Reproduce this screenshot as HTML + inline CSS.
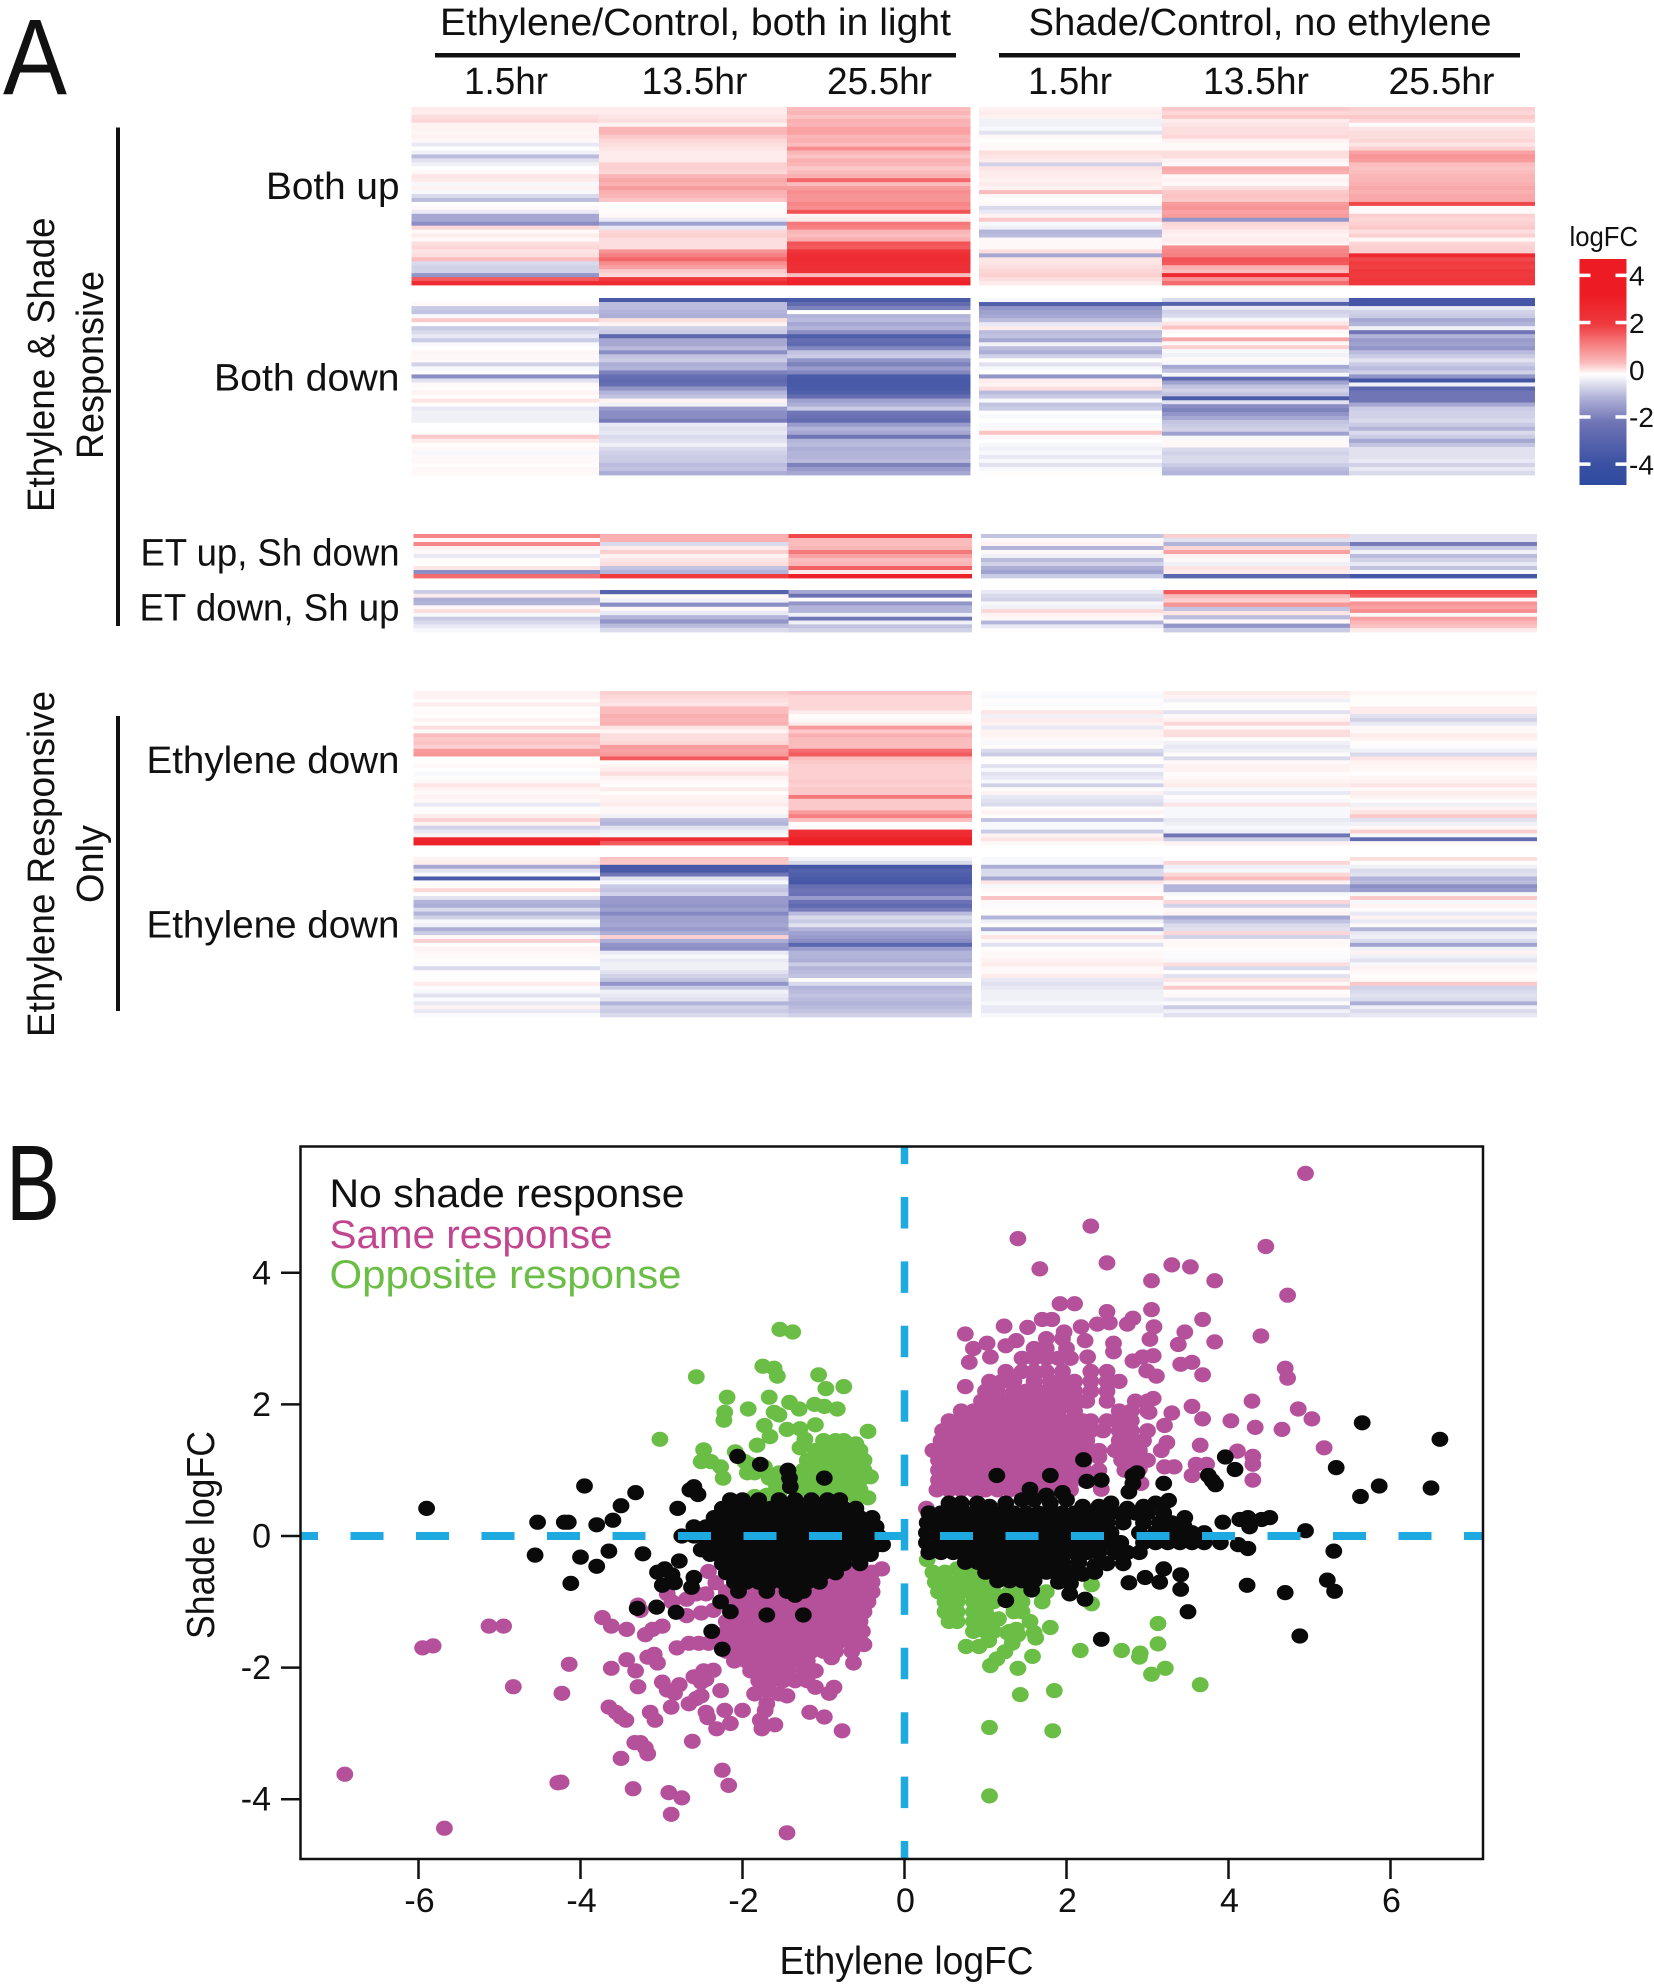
<!DOCTYPE html>
<html lang="en">
<head>
<meta charset="utf-8">
<title>Ethylene and shade responsive genes</title>
<style>
html,body{margin:0;padding:0;background:#fff;}
svg{display:block;}
text{font-family:"Liberation Sans",sans-serif;fill:#111;}
</style>
</head>
<body>
<svg id="fig" xmlns="http://www.w3.org/2000/svg" width="1654" height="1984" viewBox="0 0 1654 1984">
<defs>
<linearGradient id="lfc" x1="0" y1="0" x2="0" y2="1">
<stop offset="0" stop-color="#ed1c24"/><stop offset="0.16" stop-color="#ed1c24"/><stop offset="0.29" stop-color="#ef3a3e"/><stop offset="0.37" stop-color="#f5797b"/><stop offset="0.46" stop-color="#fbbcbd"/><stop offset="0.51" stop-color="#ffffff"/><stop offset="0.61" stop-color="#b3b4d9"/><stop offset="0.72" stop-color="#7075b6"/><stop offset="0.91" stop-color="#3a50a2"/><stop offset="1" stop-color="#2e4b9f"/>
</linearGradient>
</defs>
<rect width="1654" height="1984" fill="#fff"/>

<text x="3" y="94" font-size="108" textLength="64" lengthAdjust="spacingAndGlyphs">A</text>
<text x="6" y="1220" font-size="108" textLength="54" lengthAdjust="spacingAndGlyphs">B</text>

<text x="440" y="35" font-size="38" textLength="511" lengthAdjust="spacingAndGlyphs">Ethylene/Control, both in light</text>
<text x="1028.5" y="35" font-size="38" textLength="463" lengthAdjust="spacingAndGlyphs">Shade/Control, no ethylene</text>
<rect x="435" y="53" width="521" height="4.5" fill="#111"/>
<rect x="999" y="53" width="521" height="4.5" fill="#111"/>

<text x="464" y="94" font-size="38" textLength="84" lengthAdjust="spacingAndGlyphs">1.5hr</text>
<text x="641.5" y="94" font-size="38" textLength="106" lengthAdjust="spacingAndGlyphs">13.5hr</text>
<text x="827" y="94" font-size="38" textLength="105" lengthAdjust="spacingAndGlyphs">25.5hr</text>
<text x="1028" y="94" font-size="38" textLength="84" lengthAdjust="spacingAndGlyphs">1.5hr</text>
<text x="1203" y="94" font-size="38" textLength="106" lengthAdjust="spacingAndGlyphs">13.5hr</text>
<text x="1388.5" y="94" font-size="38" textLength="106" lengthAdjust="spacingAndGlyphs">25.5hr</text>

<text x="266" y="199" font-size="38" textLength="133.5" lengthAdjust="spacingAndGlyphs">Both up</text>
<text x="214" y="390.5" font-size="38" textLength="185.5" lengthAdjust="spacingAndGlyphs">Both down</text>
<text x="140.5" y="565.5" font-size="38" textLength="259" lengthAdjust="spacingAndGlyphs">ET up, Sh down</text>
<text x="139.5" y="620.5" font-size="38" textLength="260" lengthAdjust="spacingAndGlyphs">ET down, Sh up</text>
<text x="146.5" y="773" font-size="38" textLength="253" lengthAdjust="spacingAndGlyphs">Ethylene down</text>
<text x="146.5" y="937.5" font-size="38" textLength="253" lengthAdjust="spacingAndGlyphs">Ethylene down</text>

<text transform="translate(54 512) rotate(-90)" font-size="38" textLength="294.5" lengthAdjust="spacingAndGlyphs">Ethylene &amp; Shade</text>
<text transform="translate(103 459) rotate(-90)" font-size="38" textLength="188" lengthAdjust="spacingAndGlyphs">Responsive</text>
<text transform="translate(54 1037) rotate(-90)" font-size="38" textLength="346" lengthAdjust="spacingAndGlyphs">Ethylene Responsive</text>
<text transform="translate(103 903) rotate(-90)" font-size="38" textLength="78" lengthAdjust="spacingAndGlyphs">Only</text>
<rect x="116" y="127.5" width="4" height="498.5" fill="#111"/>
<rect x="116" y="716" width="4" height="295" fill="#111"/>

<g id="heatmap"></g>

<text x="1569.5" y="246" font-size="28" textLength="68.5" lengthAdjust="spacingAndGlyphs">logFC</text>
<rect x="1579.5" y="259" width="47" height="226" fill="url(#lfc)"/>
<g id="colorbar-ticks"></g>

<rect x="300.5" y="1146.5" width="1182.5" height="712.5" fill="#fff"/>
<g id="points"></g>
<line x1="300.5" x2="1483" y1="1536" y2="1536" stroke="#1eaae1" stroke-width="8" stroke-dasharray="33 32.5" stroke-dashoffset="15.5"/>
<line x1="904.5" x2="904.5" y1="1146.5" y2="1859" stroke="#1eaae1" stroke-width="7.5" stroke-dasharray="31.5 32.9" stroke-dashoffset="13.9"/>
<rect x="300.5" y="1146.5" width="1182.5" height="712.5" fill="none" stroke="#111" stroke-width="2.5"/>
<g id="axes"></g>

<text x="329.5" y="1207" font-size="40" textLength="355" lengthAdjust="spacingAndGlyphs">No shade response</text>
<text x="329.5" y="1248" font-size="40" textLength="283" lengthAdjust="spacingAndGlyphs" style="fill:#c2458f">Same response</text>
<text x="329.5" y="1288" font-size="40" textLength="352" lengthAdjust="spacingAndGlyphs" style="fill:#6abd45">Opposite response</text>
<text x="779.5" y="1974" font-size="39" textLength="254" lengthAdjust="spacingAndGlyphs">Ethylene logFC</text>
<text transform="translate(214 1639) rotate(-90)" font-size="39" textLength="208" lengthAdjust="spacingAndGlyphs">Shade logFC</text>
</svg>

<script>
// ---------- Heatmap values (logFC), top to bottom ----------
const bothUpEt1=[.3,.3,.5,.6,.2,.2,.15,.2,.1,-.3,0,-.2,-.9,-.4,-.2,0,.1,.4,.3,-.1,.2,-.1,-.5,-.9,0,.1,-.3,-1.2,-1.2,-1.6,.6,.1,.3,.1,.5,.6,.4,.5,1,-.5,-.6,-.6,-1.5,2.5,3.5];
const bothUpEt13=[.3,.3,.4,.5,.2,1.1,1.1,.8,.6,.5,.4,.3,.3,.3,.7,.7,.6,1.1,1.3,1.2,1.5,1.2,1.1,.9,.05,.05,.05,.1,-.3,-1.3,-.3,.6,.7,.5,.5,.5,1.6,1.9,2.3,1.7,1.4,.8,.6,3,3.5];
const bothUpEt25=[1,1.1,.9,1.2,1.1,1.4,1.4,1.1,1.2,1,1.7,1.1,.9,1.2,1.1,.8,1,1.2,2.3,1,1.5,1.7,1.6,1.6,1.8,1.7,2.6,.2,.3,2,1.9,1.1,1,1.2,2.6,2.5,3.2,3.4,3.5,3.4,3.3,3.3,1,3.7,3.8];
const bothUpSh1=[.2,.3,.2,-.2,-.2,-.1,-.4,.1,0,.1,.1,.5,.4,.3,-.6,.4,.3,.3,.2,.3,.2,1,.1,.05,.1,-.5,-.3,.2,.8,-.1,-.2,-1,-.9,.1,.1,.1,.5,-1.2,.4,.4,.5,.6,.7,.5,.3];
const bothUpSh13=[.8,.6,.8,.3,.4,.5,.5,.6,.2,.1,.1,.5,.5,.2,.1,1.3,1.2,.1,.2,.1,.5,.8,.9,.8,1.5,1.6,1.4,1.5,-1.5,.6,.5,.3,.2,.3,.2,1.7,1.8,1.9,2.6,2.5,1.2,1,3.5,1.6,2.2];
const bothUpSh25=[.7,.6,.8,.6,.05,.4,.5,.5,.6,.4,.7,1.4,1.6,1.5,1,.9,1,1.1,1.1,1.2,1.3,1.2,1.3,1.3,2.8,.1,.1,.7,.6,.7,.8,.5,.7,.1,.6,.7,.7,3.6,2.8,3,2.9,3.1,3,3.1,3.1];

const bothDownEt1=[0,.1,-.7,-.8,-.1,.8,0,-.7,-.5,-.3,-.7,-.1,0,.15,.1,.1,-.6,-.1,.05,-1.6,-.4,.1,.05,.2,.05,.4,.05,-.3,-.2,-.2,-.2,0,0,.05,.8,.3,.05,.1,-.1,.1,.1,.05,.1,.1];
const bothDownEt13=[-3.5,-.9,-.9,-1,-1.1,.5,.2,-.6,-.7,-2.7,-1.2,-1.2,-.9,-1.6,-.8,-.7,-1.1,-1,-1.8,-2.4,-2.6,-2.4,-1.5,-1,-.8,.2,-.2,-1.4,-1.6,-1.6,-1.9,-.3,-.4,-.3,-.5,-.4,-.2,-.5,-.6,-.7,-.7,-.9,-.8,-1.1];
const bothDownEt25=[-3.4,-2.5,-1.8,0,-1,-.9,-1.2,-1,-1.6,-3.2,-2.4,-2.6,-1.7,-.8,-.7,-1.5,-1.8,-1.4,-1.7,-3.4,-3.5,-3.5,-3.4,-3.2,-2.5,-1.3,-1.1,-.7,-2,-2.2,-2.5,-1.4,-1,-1.2,-2,-1,-.9,-1.1,-1,-1,-.9,-1.8,-1.4,-1.2];
const bothDownSh1=[-.1,-3.2,-1.5,-1.3,-1.2,-.9,-.3,.3,-.9,-.8,-1.2,-.2,-.9,-1.1,-.6,.05,-.4,-.1,0,-1.5,.3,.2,.5,-.9,-.7,-.1,-.8,-.7,0,-.1,0,-.1,.1,.9,.1,0,-.1,-.2,-.1,-.3,-.1,-.4,-.1,.05];
const bothDownSh13=[-.5,-3,-.3,-.6,-.5,-.1,.4,.9,.1,0,1.3,.1,.7,-.1,-.2,.1,-.1,-1.2,-.8,-.1,-2.6,-1.3,-.8,-.6,-.8,-3.4,-.4,-1.6,-1.8,-1.5,-1.2,-.8,-.7,-.6,-1.3,-.1,.1,.1,-.5,-.6,-.5,-.5,-.7,-.9,-1];
const bothDownSh25=[-3.6,-3.6,-.3,-.6,-.7,-1.2,-1,-.2,-2,-1,-1.4,-1.3,-1.5,-.9,-.7,-.4,-.7,-.9,-.6,-1.5,-3.7,-.2,-2.8,-2,-2,-2,-1.2,-.7,-.6,-.6,-.5,-.7,-1,-.5,-.7,-1.2,-.8,-.4,-.4,-.4,-.3,-.6,-.3,-.5];

const etUpEt1=[1.8,.1,1.8,.2,.1,-.3,.05,.05,.4,-1.6,2.2];
const etUpEt13=[1.2,1.2,-.5,.3,.7,.2,.4,.5,-.8,-1,3];
const etUpEt25=[2.8,1,1,1.1,2,1.4,1,1.1,2.4,.3,3.8];
const etUpSh1=[-.8,.1,.2,-1,.1,-.2,-.9,-.6,-1.1,-1.3,-.7];
const etUpSh13=[.7,-.4,-1,.6,1.4,.2,.1,-.2,.4,.3,-2.8];
const etUpSh25=[-.4,-.4,-1.9,-.7,-.2,-.9,-.6,-.3,-.8,-.1,-3.6];

const etDownEt1=[-.7,.3,-1.1,-1,.1,.5,-.1,-.7,-.5,-.3,-.1];
const etDownEt13=[-3,.1,-.2,-1.6,.1,-.3,-1,-1.5,-.9,-.5];
const etDownEt25=[-1.2,-2.2,.05,-1.5,-1,-1,-.2,-2,-.2,-.8,-.6];
const etDownSh1=[-.3,-.5,-.6,-.1,-.2,.6,.2,.1,-1,-.3,.05];
const etDownSh13=[2.5,1,.7,1.6,-.8,.4,-.9,.1,-1.5,-.7];
const etDownSh25=[2.8,2.5,.1,1.6,1.4,1.7,.1,1.4,1.1,.9,.3];

const ethAEt1=[.2,.2,.05,.3,.05,.1,.05,.2,.05,.5,.1,1,.8,.9,.7,1.5,1.6,.05,.05,.1,0,-.1,.05,.1,.4,.2,.1,.2,.1,-.3,.05,.05,.3,.7,.2,-.6,-.3,.2,3.7,3.8];
const ethAEt13=[.7,.6,.5,.4,1,1,1.2,1.1,1.2,.4,.2,.5,.5,.6,1.5,1.4,1.5,2.5,.05,.2,.3,.5,.2,.1,.05,.3,.05,.2,.2,.3,.1,.1,-.2,-.9,-1,-.4,-.2,-.1,3.4,2.5];
const ethAEt25=[.9,.6,.6,.6,.6,.3,.05,.1,.3,1.5,.8,1.2,1,1,1,2.2,2.5,1,.8,.7,.7,.7,.7,.8,.7,.8,.8,2,.8,.8,.8,1.5,1.9,1,.05,.1,3.4,3.5,3.8,3.9];
const ethASh1=[-.05,-.1,.05,-.05,.05,.4,-.2,.3,.2,-.3,.2,.2,.1,-.1,.05,-.5,-.7,.05,.05,-.4,-.1,-.4,-.3,-.1,-.6,.05,.2,-.3,-.4,-.5,.05,.2,.05,-.8,-.1,-.1,-.7,.2,.4,.1];
const ethASh13=[.3,.2,-.2,.05,.05,-.4,.1,.2,.6,.1,.5,.5,.05,-.2,-.3,-.2,.05,-.5,.1,.2,.2,.05,.1,.2,.3,-.1,-.3,.05,-.1,.4,-.1,-.1,-.1,-.3,-.2,-.1,-.2,-2,-.7,.2];
const ethASh25=[.15,.05,.05,.05,.3,.3,-.4,-.6,-.3,.1,.1,.3,.2,.05,-.05,-.2,-.5,.4,.2,.15,.1,0,.15,.2,.4,.1,.3,.2,.05,-.2,.2,.4,.8,-.4,-.2,.1,.7,-.1,-2.5,.1];

const ethBEt1=[.2,.3,-1.2,-.4,-.1,-3.5,.05,.05,.6,.05,-.4,-1,-1.1,-.5,-1,-.6,-.1,-.2,-1.1,-.7,.1,.7,.05,.2,.1,.1,.05,-.05,-.5,.05,.05,.05,.3,-.05,-.1,-.4,-.05,-.3,.2,-.3,-.05];
const ethBEt13=[.9,.8,-3.5,-3.5,-2,-.4,-.1,-.7,-.8,-.6,-1.4,-1.4,-1.5,-1.3,-1.7,-1.3,-1.3,-1.2,-1.4,-1.1,.7,-1.1,-1.5,-1.6,-.3,-.1,-.3,-.2,-.2,-.4,-.6,-.8,-1.5,-.7,-.2,-.3,-.4,-1,-.6,-.7,-.5];
const ethBEt25=[-.2,-.5,-3.6,-3,-3.2,-3.4,-3.6,-2.4,-2.1,-2.2,-1.4,-2.2,-2.6,-1.9,-.9,-.5,-.7,-.4,-1,-1.3,-1.4,-1.6,-2.8,-1.4,-1,-1,-1.1,-.7,-1,-.9,-.8,.05,-.5,-1,-.9,-.8,-.9,-1,-.9,-.8,-.6];
const ethBSh1=[-.1,-.1,-1.1,-.5,-.5,-1.2,.4,-.1,.1,.05,.9,.1,-.05,.05,.05,-1,-.2,.05,-1.2,-.1,.4,.1,-.4,.05,.1,.1,.2,.3,.1,.1,.3,-.3,-.4,-.3,-.2,-.2,-.2,-.1,-.3,-.3,-.1];
const ethBSh13=[.05,.6,-.2,-.1,.6,1,.2,-1,-1,-.1,.05,.6,-.6,.1,.2,-1.2,-.8,-.5,-.4,.6,-.6,.1,.1,.05,-.05,-.05,-.1,.5,-.5,0,-.4,.4,.1,.8,.05,.1,-.3,-.05,-.7,-.2,-.4];
const ethBSh25=[.5,.05,-.2,-.5,-.4,-1,-.9,-1.6,-1.4,-.1,.8,-.1,.2,.05,-.3,.2,-.3,.1,-1,-.3,-.2,-.5,-1.3,-.2,.2,-.2,-.4,-.1,.2,.1,.05,.1,.8,-.6,-.5,-.4,-.5,-1.1,-.2,-.5,-.3];

// ---------- Colour-bar tick values ----------
const colorbarTicks=[4,2,0,-2,-4];
const colorbarTickLabels=["4","2","0","-2","-4"];

// ---------- Scatter axis ticks ----------
const xTicks=[-6,-4,-2,0,2,4,6];
const yTicks=[-4,-2,0,2,4];
const xTickLabels=["-6","-4","-2","0","2","4","6"];
const yTickLabels=["-4","-2","0","2","4"];

// ---------- Scatter values [ethylene logFC, shade logFC] ----------
const samePointsLeft=[
[-6.91,-3.62],[-5.68,-4.44],[-1.45,-4.51],[-5.95,-1.7],[-5.82,-1.67],[-5.13,-1.37],[-4.95,-1.37],[-4.83,-2.29],[-4.14,-1.95],[-4.23,-2.39],[-4.28,-3.75],[-4.24,-3.74],
[-3.73,-1.24],[-3.62,-1.37],[-3.43,-1.42],[-3.62,-2.01],[-3.43,-1.88],[-3.32,-2.05],[-3.29,-2.29],[-3.65,-2.6],[-3.56,-2.68],[-3.5,-2.75],[-3.44,-2.8],[-3.5,-3.38],[-3.33,-3.14],[-3.26,-3.14],[-3.2,-3.22],[-3.17,-3.31],[-3.35,-3.84],[-2.91,-3.9],[-2.75,-3.98],[-2.88,-4.23],[-2.25,-3.56],[-2.17,-3.79],[-2.62,-3.12],[-3.14,-2.68],[-3.08,-2.8],
[-3.2,-1.5],[-3.11,-1.42],[-2.99,-1.37],[-3.17,-1.84],[-3.09,-1.8],[-3.05,-1.93],[-2.99,-2.22],[-2.93,-2.34],[-2.84,-2.39],[-2.78,-2.26],[-2.88,-2.6],[-2.66,-2.55],[-2.57,-2.47],[-2.51,-2.43],[-2.45,-2.68],[-2.43,-2.76],[-2.32,-2.93],[-2.22,-2.65],[-2.15,-2.85],[-2,-2.65],[-1.78,-2.8],[-1.76,-2.93],[-1.6,-2.87],[-1.17,-2.68],[-.99,-2.75],[-.77,-2.96],[-.93,-2.39],[-.87,-2.3],[-2.6,-2.14],[-2.51,-2.22],[-2.45,-2.18],[-2.48,-2.05],[-2.36,-2.04],[-2.27,-2.35],
[-2.81,-1.7],[-2.66,-1.63],[-2.54,-1.63],[-2.42,-1.63],[-2.87,-1],[-2.93,-.88],[-2.69,-.96],[-2.57,-.88],[-2.45,-.88],[-2.69,-1.21],[-2.51,-1.17],[-2.36,-1.13],[-3.29,-1.05],[-3.26,-1.13],[-2.42,-.54],[-2.33,-.71],
[-1,-.55],[-.85,-.55],[-.7,-.55],[-.55,-.55],[-.4,-.55],[-.28,-.5],
[-1.9,-.7],[-1.75,-.7],[-1.6,-.7],[-1.45,-.7],[-1.3,-.7],[-1.15,-.7],[-1,-.7],[-.85,-.7],[-.7,-.7],[-.55,-.7],[-.4,-.7],
[-2.2,-.85],[-2.05,-.85],[-1.9,-.85],[-1.75,-.85],[-1.6,-.85],[-1.45,-.85],[-1.3,-.85],[-1.15,-.85],[-1,-.85],[-.85,-.85],[-.7,-.85],[-.55,-.85],[-.4,-.85],
[-2.2,-1],[-2.05,-1],[-1.9,-1],[-1.75,-1],[-1.6,-1],[-1.45,-1],[-1.3,-1],[-1.15,-1],[-1,-1],[-.85,-1],[-.7,-1],[-.55,-1],[-.45,-1],
[-2.15,-1.15],[-2,-1.15],[-1.85,-1.15],[-1.7,-1.15],[-1.55,-1.15],[-1.4,-1.15],[-1.25,-1.15],[-1.1,-1.15],[-.95,-1.15],[-.8,-1.15],[-.65,-1.15],[-.5,-1.15],
[-2.2,-1.3],[-2.05,-1.3],[-1.9,-1.3],[-1.75,-1.3],[-1.6,-1.3],[-1.45,-1.3],[-1.3,-1.3],[-1.15,-1.3],[-1,-1.3],[-.85,-1.3],[-.7,-1.3],[-.55,-1.3],
[-2.2,-1.45],[-2.05,-1.45],[-1.9,-1.45],[-1.75,-1.45],[-1.6,-1.45],[-1.45,-1.45],[-1.3,-1.45],[-1.15,-1.45],[-1,-1.45],[-.85,-1.45],[-.7,-1.45],[-.52,-1.45],
[-2.3,-1.6],[-2.15,-1.6],[-2,-1.6],[-1.85,-1.6],[-1.7,-1.6],[-1.55,-1.6],[-1.4,-1.6],[-1.25,-1.6],[-1.1,-1.6],[-.95,-1.6],[-.8,-1.6],[-.65,-1.6],[-.5,-1.65],
[-2.2,-1.75],[-2.05,-1.75],[-1.9,-1.75],[-1.75,-1.75],[-1.6,-1.75],[-1.45,-1.75],[-1.3,-1.75],[-1.15,-1.75],[-1,-1.75],[-.85,-1.75],[-.65,-1.75],
[-2.1,-1.9],[-1.95,-1.9],[-1.8,-1.9],[-1.65,-1.9],[-1.5,-1.9],[-1.35,-1.9],[-1.2,-1.9],[-.9,-1.85],[-.63,-1.93],
[-1.9,-2.05],[-1.75,-2.05],[-1.6,-2.05],[-1.45,-2.05],[-1.25,-2.05],[-1.1,-2.05],
[-1.8,-2.2],[-1.65,-2.2],[-1.5,-2.2],[-1.35,-2.2],[-1.2,-2.2],[-1.1,-2.3],
[-1.85,-2.4],[-1.7,-2.35],[-1.55,-2.4],[-1.45,-2.43],[-1.7,-2.55],[-1.72,-2.65]
];

const samePointsRight=[
[.27,.42],[4.95,5.51],[2.3,4.71],[1.4,4.52],[1.67,4.06],[2.5,4.15],[3.3,4.12],[3.53,4.09],[3.05,3.88],[3.83,3.88],[4.46,4.4],[4.73,3.66],[1.92,3.53],[2.1,3.53],[3.05,3.44],[2.5,3.41],[3.68,3.29],[3.08,3.18],[2.82,3.31],[2.75,3.22],[2.38,3.22],[2.53,3.24],[2.18,3.18],[.75,3.07],[1.23,3.19],[1.52,3.17],[1.7,3.29],[1.82,3.29],[1.97,3.1],[3.46,3.1],[3.38,2.91],[3.03,2.99],[3.83,2.95],[4.4,3.04],[2.58,2.93],[2.58,2.8],[2.23,2.97],[1.38,2.97],[1.25,2.89],[1.02,2.93],[.85,2.85],[.8,2.64],[1.06,2.72],[2.26,2.72],[2.82,2.66],[2.94,2.72],[3.07,2.74],[3.41,2.61],[3.55,2.64],[4.7,2.55],[4.73,2.4],[3.68,2.45],[2.99,2.51],[3.11,2.43],[.75,2.27],[4.29,2.05],[4.86,1.93],[3.55,1.97],[3.3,1.87],[5.03,1.78],[3.68,1.78],[4.03,1.75],[4.33,1.65],[4.66,1.62],[5.18,1.34],[3.65,1.38],[4.11,1.29],[4.3,1.21],[4.3,1.09],[3.6,1.09],[3.73,1.09],[3.55,.92],[4.3,.85],[3.21,1.05],[3.33,1.05],[3.17,1.3],[3.24,1.42],[3.21,1.68],[3.07,2.09],[3.02,1.88],[2.92,.8],[2.43,.71],
[.4,.7],[.55,.7],[.7,.7],[.85,.7],[1,.7],[1.15,.7],[1.3,.7],[1.45,.7],[1.6,.7],[1.75,.7],[1.9,.7],[2.05,.7],
[.42,.85],[.57,.85],[.72,.85],[.87,.85],[1.02,.85],[1.17,.85],[1.32,.85],[1.47,.85],[1.62,.85],[1.77,.85],[1.92,.85],[2.07,.85],[2.22,.85],[2.35,.85],
[.42,1],[.57,1],[.72,1],[.87,1],[1.02,1],[1.17,1],[1.32,1],[1.47,1],[1.62,1],[1.77,1],[1.92,1],[2.07,1],[2.22,1],[2.4,1],[2.72,1],[2.9,1.02],
[.42,1.15],[.57,1.15],[.72,1.15],[.87,1.15],[1.02,1.15],[1.17,1.15],[1.32,1.15],[1.47,1.15],[1.62,1.15],[1.77,1.15],[1.92,1.15],[2.07,1.15],[2.22,1.15],[2.4,1.2],[2.68,1.15],[2.83,1.15],[3,1.15],
[.35,1.3],[.5,1.3],[.65,1.3],[.8,1.3],[.95,1.3],[1.1,1.3],[1.25,1.3],[1.4,1.3],[1.55,1.3],[1.7,1.3],[1.85,1.3],[2,1.3],[2.15,1.3],[2.3,1.3],[2.4,1.3],[2.6,1.3],[2.75,1.3],[2.9,1.3],
[.45,1.45],[.6,1.45],[.75,1.45],[.9,1.45],[1.05,1.45],[1.2,1.45],[1.35,1.45],[1.5,1.45],[1.65,1.45],[1.8,1.45],[1.95,1.45],[2.1,1.45],[2.25,1.45],[2.65,1.45],[2.8,1.45],[2.95,1.45],
[.47,1.6],[.62,1.6],[.77,1.6],[.92,1.6],[1.07,1.6],[1.22,1.6],[1.37,1.6],[1.52,1.6],[1.67,1.6],[1.82,1.6],[1.97,1.6],[2.12,1.6],[2.3,1.6],[2.45,1.6],[2.65,1.6],[2.8,1.6],[3,1.6],
[.55,1.75],[.7,1.75],[.85,1.75],[1,1.75],[1.15,1.75],[1.3,1.75],[1.45,1.75],[1.6,1.75],[1.75,1.75],[1.9,1.75],[2.05,1.75],[2.2,1.75],[2.3,1.75],[2.5,1.75],[2.65,1.75],[2.8,1.75],
[.7,1.9],[.85,1.9],[1,1.9],[1.15,1.9],[1.3,1.9],[1.45,1.9],[1.6,1.9],[1.75,1.9],[1.9,1.9],[2.1,1.9],[2.65,1.9],[2.8,1.9],[3,1.9],
[.95,2.05],[1.1,2.05],[1.25,2.05],[1.4,2.05],[1.55,2.05],[1.7,2.05],[1.85,2.05],[2,2.05],[2.15,2.05],[2.25,2.05],[2.5,2.05],[2.85,2.05],[3,2.05],
[1,2.2],[1.15,2.2],[1.35,2.2],[1.5,2.2],[1.65,2.2],[1.8,2.2],[1.95,2.2],[2.1,2.2],[2.3,2.2],[2.5,2.2],
[1.05,2.35],[1.2,2.35],[1.35,2.35],[1.6,2.35],[1.8,2.35],[1.95,2.35],[2.1,2.35],[2.3,2.35],[2.5,2.35],[2.65,2.35],
[1.25,2.5],[1.45,2.5],[1.6,2.5],[1.75,2.5],[1.95,2.5],[2.3,2.5],[2.5,2.5],
[1.45,2.7],[1.6,2.7],[1.75,2.7],[1.9,2.7],[2.05,2.7],[1.6,2.85],[1.75,2.85],[2,2.85],[1.75,3],[1.95,3]
];

const oppositePointsLeft=[
[-1.54,3.14],[-1.38,3.1],[-2.57,2.42],[-1.75,2.58],[-1.61,2.55],[-1.57,2.43],[-1.06,2.45],[-.75,2.27],[-.97,2.24],[-2.19,2.11],[-1.67,2.11],[-2.22,1.88],[-2.23,1.76],[-1.93,1.93],[-1.61,1.88],[-1.55,1.84],[-1.42,2.03],[-1.3,1.93],[-1.11,2],[-.99,1.97],[-.83,1.93],[-1.1,1.69],[-.45,1.59],[-3.02,1.47],[-1.73,1.68],[-1.66,1.51],[-1.45,1.62],[-1.29,1.63],[-1.23,1.47],[-1.29,1.34],[-1.82,1.38],[-2.48,1.31],[-2.51,1.13],[-2.39,1.13],[-2.27,1.05],[-2.24,.88],[-2.09,1.28],[-1.97,1.13],[-1.94,.96],[-1.85,.96],[-1.73,1.05],[-1.67,.88],[-1.55,.96],[-1.58,.75],[-1.91,1.09],
[-1,1.45],[-.85,1.45],[-.75,1.45],[-.6,1.4],[-1.1,1.3],[-.95,1.3],[-.8,1.3],[-.65,1.3],[-.55,1.3],[-1.2,1.15],[-1.05,1.15],[-.9,1.15],[-.75,1.15],[-.6,1.15],[-.5,1.15],[-1.25,1],[-1.1,1],[-.95,1],[-.8,1],[-.65,1],[-.5,1],[-1.3,.85],[-1.15,.85],[-1,.85],[-.85,.85],[-.7,.85],[-.55,.85],[-.42,.9],[-1.3,.7],[-1.15,.7],[-1,.7],[-.85,.7],[-.7,.7],[-.55,.7],[-1,.58],[-.8,.58],[-.6,.58],[-.45,.58],[-1.85,.6],[-1.7,.62],[-1.55,.6]
];

const oppositePointsRight=[
[1.05,-3.95],[1.05,-2.91],[1.83,-2.96],[1.43,-2.41],[1.85,-2.35],[3.65,-2.26],[3.05,-2.1],[3.22,-2.01],[1.4,-2.01],[1.58,-1.83],[2.17,-1.74],[2.68,-1.74],[2.91,-1.78],[2.9,-1.84],[3.13,-1.64],[3.13,-1.33],[1.06,-1.97],[1.14,-1.87],[1.24,-1.76],[.76,-1.68],[.92,-1.68],[1.04,-1.59],[1.33,-1.63],[1.38,-1.42],[1.27,-1.47],[1.8,-1.39],[1.55,-1.3],[1.6,-1.47],[1.62,-1.55],[1.16,-1.26],[2.31,-1.03],[2.31,-.74],[1.72,-.35],[.65,-.5],[.28,-.36],
[.35,-.55],[.5,-.55],[.7,-.55],[.85,-.55],[1,-.55],
[.38,-.7],[.5,-.7],[.65,-.7],[.8,-.7],[.95,-.7],[1.1,-.7],[1.3,-.7],[1.45,-.7],
[.42,-.85],[.55,-.85],[.7,-.85],[.85,-.85],[.95,-.85],[1.1,-.85],[1.3,-.85],[1.45,-.85],[1.75,-.85],
[.5,-1],[.65,-1],[.85,-1],[1,-1],[1.1,-1],[1.3,-1],[1.45,-1],[1.7,-1],
[.5,-1.15],[.65,-1.15],[.85,-1.15],[1,-1.15],[1.35,-1.15],[1.45,-1.15],
[.55,-1.3],[.65,-1.3],[.85,-1.3],[1,-1.3],[1.1,-1.3],
[.85,-1.45],[1,-1.45],[1.1,-1.45],[1.3,-1.45],[1.4,-1.5]
];

const noShadePointsLeft=[
[-5.9,.42],[-3.95,.76],[-4.53,.21],[-4.2,.21],[-4.15,.21],[-3.8,.17],[-3.6,.24],[-3.5,.46],[-3.32,.66],[-4.56,-.29],[-4,-.32],[-3.8,-.46],[-3.65,-.23],[-3.23,-.27],[-4.12,-.72],[-2.8,.42],[-3.06,-1.08],[-3.3,-1.1],[-2.38,-1.45],[-2.25,-1.72],[-2.6,.75],[-2.65,.7],[-2.55,.63],
[-3.05,-.55],[-2.96,-.5],[-2.87,-.59],[-2.78,-.38],[-2.99,-.75],[-2.84,-.71],[-2.6,-.63],[-2.63,-.78],[-2.82,-1.16],[-2.51,-.21],[-2.06,1.21],[-1.78,1.09],[-1.44,1],[-1.42,.88],[-1.41,.75],[-.99,.88],[-2.27,-1.0],[-2.15,-1.15],[-1.7,-1.2],[-1.25,-1.2],[-.27,-.13],
[-2.15,.55],[-2,.55],[-1.8,.55],[-1.55,.55],[-1.35,.55],[-1.15,.55],[-.95,.55],[-.8,.55],
[-2.25,.42],[-2.1,.42],[-1.95,.42],[-1.8,.42],[-1.65,.42],[-1.5,.42],[-1.35,.42],[-1.2,.42],[-1.05,.42],[-.9,.42],[-.75,.42],[-.6,.42],
[-2.35,.28],[-2.2,.28],[-2.05,.28],[-1.9,.28],[-1.75,.28],[-1.6,.28],[-1.45,.28],[-1.3,.28],[-1.15,.28],[-1,.28],[-.85,.28],[-.7,.28],[-.55,.28],[-.4,.28],
[-2.6,.14],[-2.45,.14],[-2.3,.14],[-2.15,.14],[-2,.14],[-1.85,.14],[-1.7,.14],[-1.55,.14],[-1.4,.14],[-1.25,.14],[-1.1,.14],[-.95,.14],[-.8,.14],[-.65,.14],[-.5,.14],[-.35,.14],
[-2.75,0],[-2.6,0],[-2.45,0],[-2.3,0],[-2.15,0],[-2,0],[-1.85,0],[-1.7,0],[-1.55,0],[-1.4,0],[-1.25,0],[-1.1,0],[-.95,0],[-.8,0],[-.65,0],[-.5,0],[-.32,0],
[-2.45,-.14],[-2.3,-.14],[-2.15,-.14],[-2,-.14],[-1.85,-.14],[-1.7,-.14],[-1.55,-.14],[-1.4,-.14],[-1.25,-.14],[-1.1,-.14],[-.95,-.14],[-.8,-.14],[-.65,-.14],[-.5,-.14],[-.35,-.14],
[-2.4,-.28],[-2.25,-.28],[-2.1,-.28],[-1.95,-.28],[-1.8,-.28],[-1.65,-.28],[-1.5,-.28],[-1.35,-.28],[-1.2,-.28],[-1.05,-.28],[-.9,-.28],[-.75,-.28],[-.6,-.28],[-.42,-.28],
[-2.25,-.42],[-2.1,-.42],[-1.95,-.42],[-1.8,-.42],[-1.65,-.42],[-1.5,-.42],[-1.35,-.42],[-1.2,-.42],[-1.05,-.42],[-.9,-.42],[-.75,-.42],[-.55,-.42],
[-2.2,-.56],[-2.05,-.56],[-1.9,-.56],[-1.75,-.56],[-1.6,-.56],[-1.45,-.56],[-1.3,-.56],[-1.15,-.56],[-1,-.56],[-.85,-.56],
[-2.1,-.7],[-1.95,-.7],[-1.8,-.7],[-1.65,-.7],[-1.5,-.7],[-1.35,-.7],[-1.2,-.7],[-1.05,-.7],
[-2.05,-.84],[-1.7,-.84],[-1.45,-.84],[-1.35,-.9],[-1.25,-.84]
];

const noShadePointsRight=[
[2.25,.83],[2.43,.85],[2.82,.92],[2.87,.96],[2.77,.67],[2.82,.8],[3.2,.8],[3.26,.54],[3.46,.28],[3.93,.21],[4.14,.25],[4.24,.28],[4.26,.14],[4.41,.25],[4.51,.28],[4.12,-.13],[4.24,-.19],[4.95,.08],[5.3,-.23],[5.22,-.67],[5.31,-.84],[4.7,-.86],[4.23,-.75],[4.88,-1.52],[2.77,-.71],[2.97,-.63],[3.15,-.7],[3.2,-.5],[3.41,-.59],[3.41,-.81],[3.5,-1.15],[2.43,-1.57],[2.23,-.96],[1.25,-.98],[1.57,-.82],[2.04,-.88],
[3.96,1.2],[4.08,1.01],[3.75,.92],[3.8,.84],[3.84,.78],[5.65,1.72],[6.61,1.47],[5.33,1.04],[5.86,.76],[5.63,.6],[6.5,.73],[2.21,1.16],[1.14,.92],[1.8,.92],[1.55,.71],[1.75,.62],[1.95,.66],
[.55,.5],[.7,.5],[.9,.5],[1.05,.45],[1.25,.5],[1.45,.55],[1.6,.55],[1.8,.5],[2,.55],[2.2,.45],[2.4,.45],[2.55,.5],[2.75,.42],[2.95,.45],[3.1,.5],
[.3,.35],[.45,.35],[.6,.35],[.75,.35],[.9,.35],[1.05,.35],[1.2,.35],[1.35,.35],[1.5,.35],[1.65,.35],[1.8,.35],[1.95,.35],[2.1,.35],[2.25,.35],[2.4,.35],[2.55,.35],[2.7,.35],[2.85,.35],[3,.35],[3.2,.35],
[.28,.2],[.43,.2],[.58,.2],[.73,.2],[.88,.2],[1.03,.2],[1.18,.2],[1.33,.2],[1.48,.2],[1.63,.2],[1.78,.2],[1.93,.2],[2.08,.2],[2.23,.2],[2.38,.2],[2.5,.2],[2.7,.2],[2.95,.2],[3.15,.2],[3.3,.2],[3.45,.15],
[.27,.05],[.42,.05],[.57,.05],[.72,.05],[.87,.05],[1.02,.05],[1.17,.05],[1.32,.05],[1.47,.05],[1.62,.05],[1.77,.05],[1.92,.05],[2.07,.05],[2.22,.05],[2.37,.05],[2.55,.05],[2.9,.05],[3.1,.05],[3.25,.05],[3.4,.05],[3.55,.05],[3.7,.05],
[.27,-.1],[.42,-.1],[.57,-.1],[.72,-.1],[.87,-.1],[1.02,-.1],[1.17,-.1],[1.32,-.1],[1.47,-.1],[1.62,-.1],[1.77,-.1],[1.92,-.1],[2.07,-.1],[2.22,-.1],[2.37,-.1],[2.52,-.1],[2.67,-.1],[2.95,-.1],[3.1,-.1],[3.25,-.1],[3.4,-.1],[3.55,-.1],[3.7,-.1],[3.9,-.1],
[.3,-.25],[.45,-.25],[.6,-.25],[.75,-.25],[.9,-.25],[1.05,-.25],[1.2,-.25],[1.35,-.25],[1.5,-.25],[1.65,-.25],[1.8,-.25],[1.95,-.25],[2.1,-.25],[2.25,-.25],[2.4,-.25],[2.6,-.25],[2.75,-.25],[2.9,-.25],
[.75,-.4],[.9,-.4],[1.05,-.4],[1.2,-.4],[1.35,-.4],[1.5,-.4],[1.65,-.4],[1.8,-.4],[1.95,-.4],[2.15,-.4],[2.35,-.45],[2.5,-.42],[2.7,-.42],
[1,-.55],[1.15,-.55],[1.3,-.55],[1.45,-.55],[1.6,-.55],[1.75,-.55],[1.9,-.55],[2.05,-.55],[2.2,-.58],[2.35,-.55],
[1.15,-.68],[1.3,-.68],[1.45,-.68],[1.6,-.68],[1.9,-.7],[2.05,-.72]
];

// ---------- Axis functions ----------
function xScale(v){return 904.5+81*v;}
function yScale(v){return 1536-65.8*v;}
function legendScale(v){return 370-23.6*v;}

const colorStops=[[-5,[46,75,159]],[-4,[58,80,162]],[-2,[112,117,182]],[-1,[179,180,217]],[0,[255,255,255]],[1,[251,188,189]],[2,[245,121,123]],[3,[239,58,62]],[4,[237,28,36]],[5,[237,28,36]]];
function heatColor(v){
  for(let i=1;i<colorStops.length;i++){
    if(v<=colorStops[i][0]){
      const a=colorStops[i-1],b=colorStops[i];
      const t=Math.max(0,(v-a[0])/(b[0]-a[0]));
      const c=a[1].map((p,k)=>Math.round(p+(b[1][k]-p)*t));
      return 'rgb('+c.join(',')+')';
    }
  }
  return 'rgb(237,28,36)';
}

const NS='http://www.w3.org/2000/svg';
const topCols=[[411.5,599],[599,787],[787,970.5],[979,1162],[1162,1349],[1349,1535]];
const lowCols=[[413.5,600],[600,788.5],[788.5,972],[981,1163.5],[1163.5,1350],[1350,1537]];
const heatBlocks=[
  {key:'both-up',y0:107,y1:285,cols:topCols,data:[bothUpEt1,bothUpEt13,bothUpEt25,bothUpSh1,bothUpSh13,bothUpSh25]},
  {key:'both-down',y0:298,y1:475,cols:topCols,data:[bothDownEt1,bothDownEt13,bothDownEt25,bothDownSh1,bothDownSh13,bothDownSh25]},
  {key:'et-up-sh-down',y0:534,y1:578,cols:lowCols,data:[etUpEt1,etUpEt13,etUpEt25,etUpSh1,etUpSh13,etUpSh25]},
  {key:'et-down-sh-up',y0:590,y1:632,cols:lowCols,data:[etDownEt1,etDownEt13,etDownEt25,etDownSh1,etDownSh13,etDownSh25]},
  {key:'ethylene-down-a',y0:691,y1:845,cols:lowCols,data:[ethAEt1,ethAEt13,ethAEt25,ethASh1,ethASh13,ethASh25]},
  {key:'ethylene-down-b',y0:857,y1:1017,cols:lowCols,data:[ethBEt1,ethBEt13,ethBEt25,ethBSh1,ethBSh13,ethBSh25]}
];
const heatRoot=document.getElementById('heatmap');
heatBlocks.forEach(block=>{
  block.data.forEach((vals,c)=>{
    const h=(block.y1-block.y0)/vals.length;
    vals.forEach((v,i)=>{
      const r=document.createElementNS(NS,'rect');
      r.setAttribute('x',block.cols[c][0]);
      r.setAttribute('y',(block.y0+i*h).toFixed(2));
      r.setAttribute('width',block.cols[c][1]-block.cols[c][0]);
      r.setAttribute('height',(h+.4).toFixed(2));
      r.setAttribute('fill',heatColor(v));
      
      
      heatRoot.appendChild(r);
    });
  });
});

const cbRoot=document.getElementById('colorbar-ticks');
colorbarTicks.forEach((v,i)=>{
  const y=legendScale(v);
  if(v!==0){
    [1579.5,1615.5].forEach(x=>{
      const t=document.createElementNS(NS,'rect');
      t.setAttribute('x',x);
      t.setAttribute('y',y-2);
      t.setAttribute('width',11);
      t.setAttribute('height',3.5);
      t.setAttribute('fill','#fff');
      
      
      cbRoot.appendChild(t);
    });
  }
  const l=document.createElementNS(NS,'text');
  l.setAttribute('x',1629);
  l.setAttribute('y',y+10);
  l.setAttribute('font-size',28);
  l.textContent=colorbarTickLabels[i];
  
  
  cbRoot.appendChild(l);
});

const pointRoot=document.getElementById('points');
function drawPoints(pts,color,name){
  pts.forEach(p=>{
    const c=document.createElementNS(NS,'ellipse');
    c.setAttribute('cx',xScale(p[0]).toFixed(1));
    c.setAttribute('cy',yScale(p[1]).toFixed(1));
    c.setAttribute('rx',8.4);
    c.setAttribute('ry',7.6);
    c.setAttribute('fill',color);
    
    
    pointRoot.appendChild(c);
  });
}
drawPoints(oppositePointsLeft,'#6abd45','opposite-response-point');
drawPoints(oppositePointsRight,'#6abd45','opposite-response-point');
drawPoints(samePointsLeft,'#b5509b','same-response-point');
drawPoints(samePointsRight,'#b5509b','same-response-point');
drawPoints(noShadePointsLeft,'#0a0a0a','no-shade-response-point');
drawPoints(noShadePointsRight,'#0a0a0a','no-shade-response-point');

const axesRoot=document.getElementById('axes');
xTicks.forEach((v,i)=>{
  const t=document.createElementNS(NS,'line');
  t.setAttribute('x1',xScale(v));
  t.setAttribute('x2',xScale(v));
  t.setAttribute('y1',1859);
  t.setAttribute('y2',1879);
  t.setAttribute('stroke','#111');
  t.setAttribute('stroke-width',2.5);
  
  
  axesRoot.appendChild(t);
  const l=document.createElementNS(NS,'text');
  l.setAttribute('x',xScale(v)+1);
  l.setAttribute('y',1912);
  l.setAttribute('font-size',34);
  l.setAttribute('text-anchor','middle');
  l.textContent=xTickLabels[i];
  
  
  axesRoot.appendChild(l);
});
yTicks.forEach((v,i)=>{
  const t=document.createElementNS(NS,'line');
  t.setAttribute('x1',281);
  t.setAttribute('x2',300.5);
  t.setAttribute('y1',yScale(v));
  t.setAttribute('y2',yScale(v));
  t.setAttribute('stroke','#111');
  t.setAttribute('stroke-width',2.5);
  
  
  axesRoot.appendChild(t);
  const l=document.createElementNS(NS,'text');
  l.setAttribute('x',271);
  l.setAttribute('y',yScale(v)+11.5);
  l.setAttribute('font-size',34);
  l.setAttribute('text-anchor','end');
  l.textContent=yTickLabels[i];
  
  
  axesRoot.appendChild(l);
});
</script>
</body>
</html>
